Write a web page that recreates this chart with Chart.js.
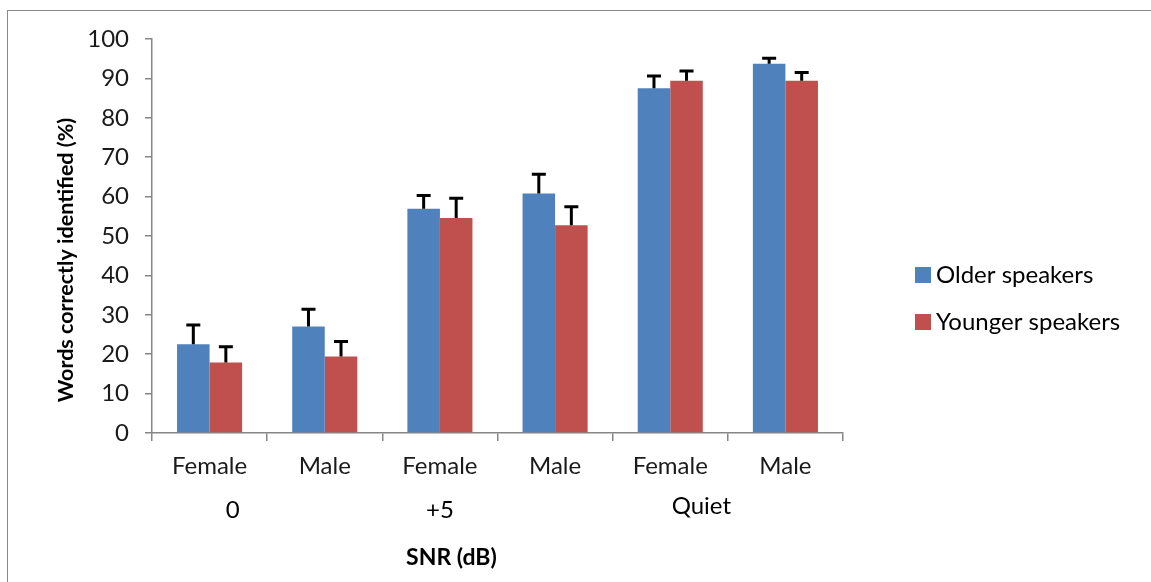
<!DOCTYPE html>
<html>
<head>
<meta charset="utf-8">
<script src="https://cdn.jsdelivr.net/npm/chart.js@4.4.0/dist/chart.umd.min.js"></script>
<style>
  html, body { margin: 0; padding: 0; background: #fff; }
  #wrap { position: relative; width: 1151px; height: 582px; overflow: hidden; }
  #frame { position: absolute; left: 7px; top: 10px; width: 1160px; height: 600px; border: 1.5px solid #8a8a8a; box-sizing: border-box; }
  canvas { position: absolute; left: 0; top: 0; }
</style>
</head>
<body>
<div id="wrap">
  <div id="frame"></div>
  <canvas id="c" width="1151" height="582"></canvas>
</div>
<script>
const categories = ["Female", "Male", "Female", "Male", "Female", "Male"];
const groupLabels = ["0", "+5", "Quiet"];
const olderValues = [22.5, 27.0, 56.9, 60.8, 87.5, 93.7];
const olderErrors = [4.9, 4.4, 3.4, 4.9, 3.1, 1.4];
const youngerValues = [17.9, 19.4, 54.6, 52.7, 89.4, 89.4];
const youngerErrors = [4.0, 3.8, 5.0, 4.7, 2.5, 2.1];
const seriesNames = ["Older speakers", "Younger speakers"];
const seriesColors = ["#4F81BD", "#C0504D"];
const yTicks = [0, 10, 20, 30, 40, 50, 60, 70, 80, 90, 100];

const FONT = "Lato";
const axisColor = "#868686";

const errorBarPlugin = {
  id: "errorBars",
  afterDatasetsDraw(chart) {
    const ctx = chart.ctx;
    const ys = chart.scales.y;
    chart.data.datasets.forEach((ds, di) => {
      const meta = chart.getDatasetMeta(di);
      meta.data.forEach((bar, i) => {
        const top = ys.getPixelForValue(ds.data[i] + ds.errors[i]);
        ctx.save();
        ctx.strokeStyle = "#000";
        ctx.lineWidth = 3;
        ctx.beginPath();
        ctx.moveTo(bar.x, bar.y);
        ctx.lineTo(bar.x, top);
        ctx.moveTo(bar.x - 7, top);
        ctx.lineTo(bar.x + 7, top);
        ctx.stroke();
        ctx.restore();
      });
    });
  }
};

const textPlugin = {
  id: "texts",
  afterDraw(chart) {
    const ctx = chart.ctx;
    const xs = chart.scales.x;
    const area = chart.chartArea;
    const step = xs.getPixelForValue(1) - xs.getPixelForValue(0);
    ctx.save();
    ctx.fillStyle = "#000";
    // group labels
    ctx.font = "24px " + FONT;
    ctx.textAlign = "center";
    ctx.textBaseline = "middle";
    const groupPos = [xs.getPixelForValue(0) + step * 0.2, xs.getPixelForValue(2), xs.getPixelForValue(4) + step * 0.27];
    const groupY = [area.bottom + 77, area.bottom + 77, area.bottom + 73];
    groupLabels.forEach((g, i) => ctx.fillText(g, groupPos[i], groupY[i]));
    // x title
    ctx.font = "bold 23px " + FONT;
    ctx.fillText("SNR (dB)", xs.getPixelForValue(2) + step * 0.1, area.bottom + 125);
    // y title
    ctx.save();
    ctx.translate(66, (area.top + area.bottom) / 2 + 24);
    ctx.rotate(-Math.PI / 2);
    ctx.font = "bold 21.5px " + FONT;
    ctx.fillText("Words correctly identified (%)", 0, 0);
    ctx.restore();
    // legend
    ctx.textAlign = "left";
    ctx.font = "24px " + FONT;
    const legY = [275, 322];
    seriesNames.forEach((n, i) => {
      ctx.fillStyle = seriesColors[i];
      ctx.fillRect(915, legY[i] - 8, 16, 16);
      ctx.fillStyle = "#000";
      ctx.fillText(n, 936, legY[i]);
    });
    ctx.restore();
  }
};

new Chart(document.getElementById("c"), {
  type: "bar",
  data: {
    labels: categories,
    datasets: [
      { label: seriesNames[0], data: olderValues, errors: olderErrors, backgroundColor: seriesColors[0], borderWidth: 0 },
      { label: seriesNames[1], data: youngerValues, errors: youngerErrors, backgroundColor: seriesColors[1], borderWidth: 0 }
    ]
  },
  options: {
    responsive: false,
    animation: false,
    events: [],
    layout: { padding: { left: 0, top: 39, right: 308, bottom: 0 } },
    datasets: { bar: { categoryPercentage: 0.565, barPercentage: 1.0 } },
    plugins: { legend: { display: false }, tooltip: { enabled: false } },
    scales: {
      x: {
        grid: { display: true, drawOnChartArea: false, offset: true, color: axisColor, tickLength: 8, lineWidth: 1.5 },
        border: { display: true, color: axisColor, width: 1.5 },
        ticks: { font: { family: FONT, size: 24 }, color: "#1a1a1a", padding: 11 },
        afterFit(s) { s.height = 149; }
      },
      y: {
        min: 0, max: 100,
        afterBuildTicks(s) { s.ticks = yTicks.map(v => ({ value: v })); },
        grid: { display: true, drawOnChartArea: false, color: axisColor, tickLength: 7, lineWidth: 1.5 },
        border: { display: true, color: axisColor, width: 1.5 },
        ticks: { font: { family: FONT, size: 24 }, color: "#1a1a1a", padding: 16 },
        afterFit(s) { s.width = 152; }
      }
    }
  },
  plugins: [errorBarPlugin, textPlugin]
});
</script>
</body>
</html>
